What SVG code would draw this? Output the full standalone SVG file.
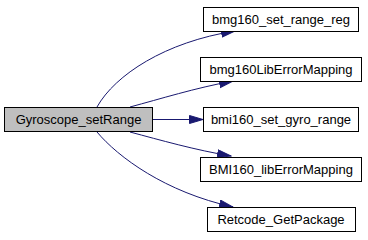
<svg xmlns="http://www.w3.org/2000/svg" width="368" height="240" viewBox="0 0 368 240">
  <style>
    .node rect { fill: #ffffff; stroke: #000000; stroke-width: 1; }
    .node.root rect { fill: #bfbfbf; }
    .node text { font-family: "Liberation Sans", Arial, sans-serif; font-size: 13px; fill: #000000; text-anchor: middle; }
    .edge { fill: none; stroke: #191970; stroke-width: 1; marker-end: url(#arrow); }
  </style>
  <defs>
    <marker id="arrow" markerUnits="userSpaceOnUse" markerWidth="15" markerHeight="10" refX="14" refY="4.5" orient="auto">
      <path d="M0.5,0.5 L14,4.5 L0.5,8.5 z" fill="#191970" stroke="#191970" stroke-width="1"/>
    </marker>
  </defs>
  <rect width="368" height="240" fill="#ffffff"/>

  <g id="edges">
    <path class="edge" d="M97,107 C115,75 165,42 235,31"/>
    <path class="edge" d="M130,107 C160,99 195,88 233,81"/>
    <path class="edge" d="M152,119.5 L203,119.5"/>
    <path class="edge" d="M130,132 C160,140 195,150 231,156"/>
    <path class="edge" d="M97,132 C118,157 165,192 233,207"/>
  </g>

  <g id="node-gyroscope-setrange" class="node root">
    <rect x="4.5" y="107.5" width="148" height="24"/>
    <text x="78.5" y="124">Gyroscope_setRange</text>
  </g>
  <g id="node-bmg160-set-range-reg" class="node">
    <rect x="203.5" y="7.5" width="155" height="24"/>
    <text x="281" y="24">bmg160_set_range_reg</text>
  </g>
  <g id="node-bmg160-lib-error-mapping" class="node">
    <rect x="200.5" y="57.5" width="161" height="24"/>
    <text x="281" y="74">bmg160LibErrorMapping</text>
  </g>
  <g id="node-bmi160-set-gyro-range" class="node">
    <rect x="203.5" y="107.5" width="155" height="24"/>
    <text x="281" y="124">bmi160_set_gyro_range</text>
  </g>
  <g id="node-bmi160-lib-error-mapping" class="node">
    <rect x="200.5" y="157.5" width="161" height="24"/>
    <text x="281" y="174">BMI160_libErrorMapping</text>
  </g>
  <g id="node-retcode-get-package" class="node">
    <rect x="207.5" y="207.5" width="148" height="24"/>
    <text x="281" y="224">Retcode_GetPackage</text>
  </g>
</svg>
